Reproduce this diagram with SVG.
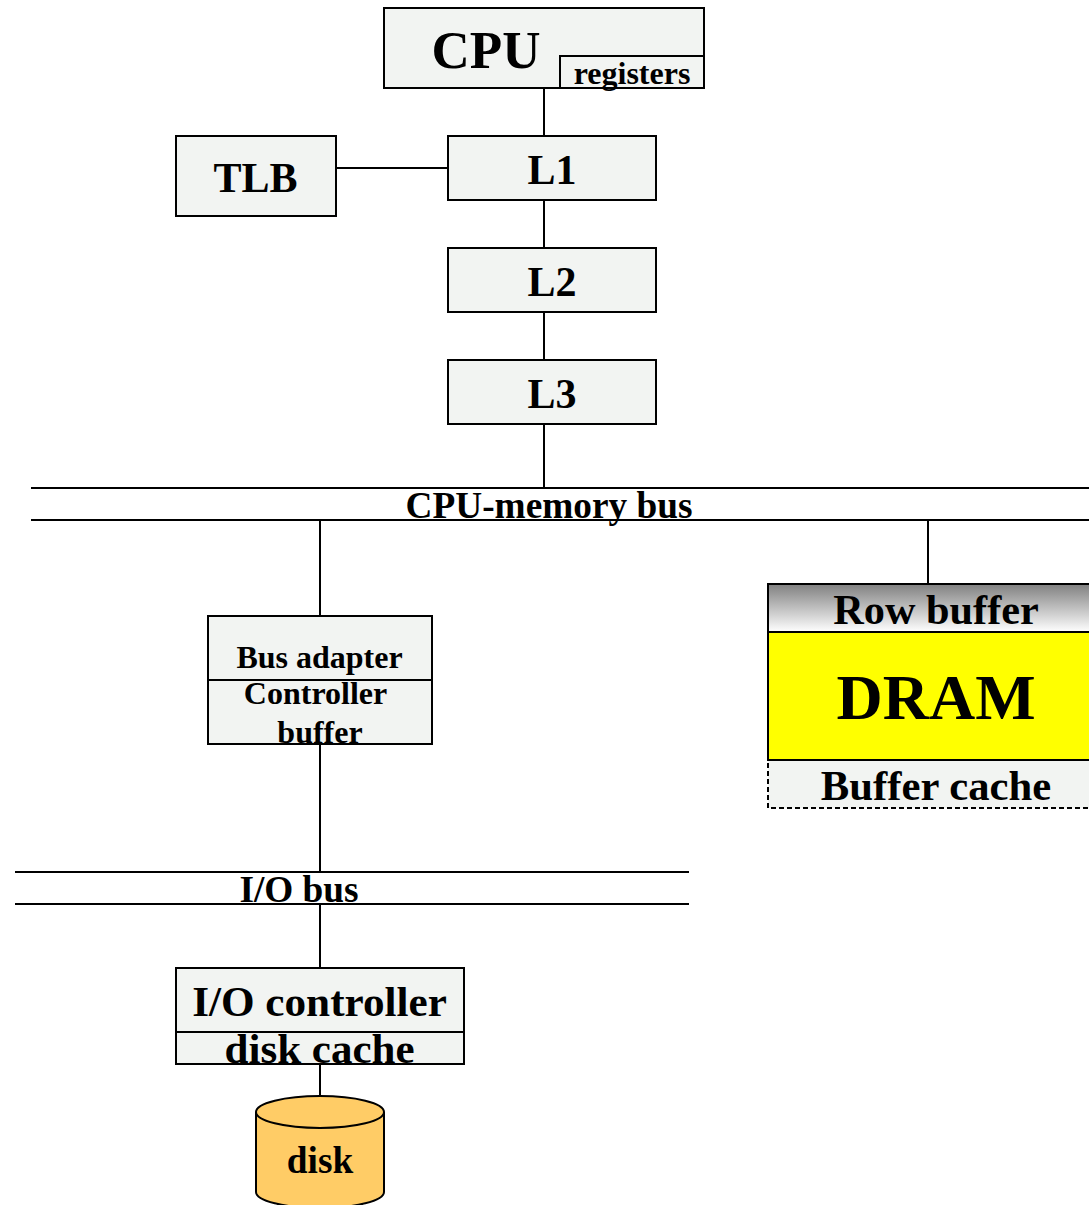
<svg xmlns="http://www.w3.org/2000/svg" width="1089" height="1205" viewBox="0 0 1089 1205">
<style>
text{font-family:"Liberation Serif","Times New Roman",serif;font-weight:bold;fill:#000;text-anchor:middle}
.b{fill:#f2f4f2;stroke:#000;stroke-width:2}
.l{fill:none;stroke:#000;stroke-width:2}
</style>
<defs><linearGradient id="g" x1="0" y1="0" x2="0" y2="1"><stop offset="0" stop-color="#808080"/><stop offset="1" stop-color="#fff"/></linearGradient></defs>
<rect width="1089" height="1205" fill="#fff"/>
<g id="connectors" class="l">
<path class="l" d="M544 88V136M336 168H448M544 200V248M544 312V360M544 424V488M320 520V616M928 520V584M320 744V872M320 904V968M320 1064V1096"/>
</g>
<g id="cpu"><rect class="b" x="384" y="8" width="320" height="80"/><text x="486" y="68" font-size="53">CPU</text>
<rect class="b" x="560" y="56" width="144" height="32"/><text x="632" y="84" font-size="32">registers</text></g>
<g id="tlb"><rect class="b" x="176" y="136" width="160" height="80"/><text x="255.500" y="192" font-size="42">TLB</text></g>
<g id="l1"><rect class="b" x="448" y="136" width="208" height="64"/><text x="552" y="184" font-size="42">L1</text></g>
<g id="l2"><rect class="b" x="448" y="248" width="208" height="64"/><text x="552" y="296" font-size="42">L2</text></g>
<g id="l3"><rect class="b" x="448" y="360" width="208" height="64"/><text x="552" y="408" font-size="42">L3</text></g>
<g id="cpu-memory-bus"><path class="l" d="M31 488H1092M31 520H1092"/><text x="549" y="518" font-size="37.300">CPU-memory bus</text></g>
<g id="bus-adapter"><rect class="b" x="208" y="616" width="224" height="64"/><text x="319.500" y="667.500" font-size="32">Bus adapter</text>
<rect class="b" x="208" y="680" width="224" height="64"/><text x="315.500" y="704" font-size="32">Controller</text><text x="320" y="743" font-size="32">buffer</text></g>
<g id="dram"><rect class="b" x="768" y="760" width="324" height="48" stroke-dasharray="5 3"/><text x="936" y="800" font-size="42.700">Buffer cache</text>
<rect x="768" y="584" width="324" height="48" fill="url(#g)" stroke="#000" stroke-width="2"/><text x="936" y="624" font-size="42.300">Row buffer</text>
<rect x="768" y="632" width="324" height="128" fill="#ff0" stroke="#000" stroke-width="2"/><text x="936" y="719" font-size="64">DRAM</text></g>
<g id="io-bus"><path class="l" d="M15 872H689M15 904H689"/><text x="299" y="902" font-size="37.300">I/O bus</text></g>
<g id="io-controller"><rect class="b" x="176" y="968" width="288" height="64"/><text x="319.500" y="1016" font-size="43.200">I/O controller</text>
<rect class="b" x="176" y="1032" width="288" height="32"/><text x="319.500" y="1063" font-size="43">disk cache</text></g>
<g id="disk"><path d="M256 1112A64 16 0 0 1 384 1112V1192A64 16 0 0 1 256 1192Z" fill="#ffcc66" stroke="#000" stroke-width="2"/><path class="l" d="M256 1112A64 16 0 0 0 384 1112"/><text x="320" y="1173" font-size="37.300">disk</text></g>
</svg>
